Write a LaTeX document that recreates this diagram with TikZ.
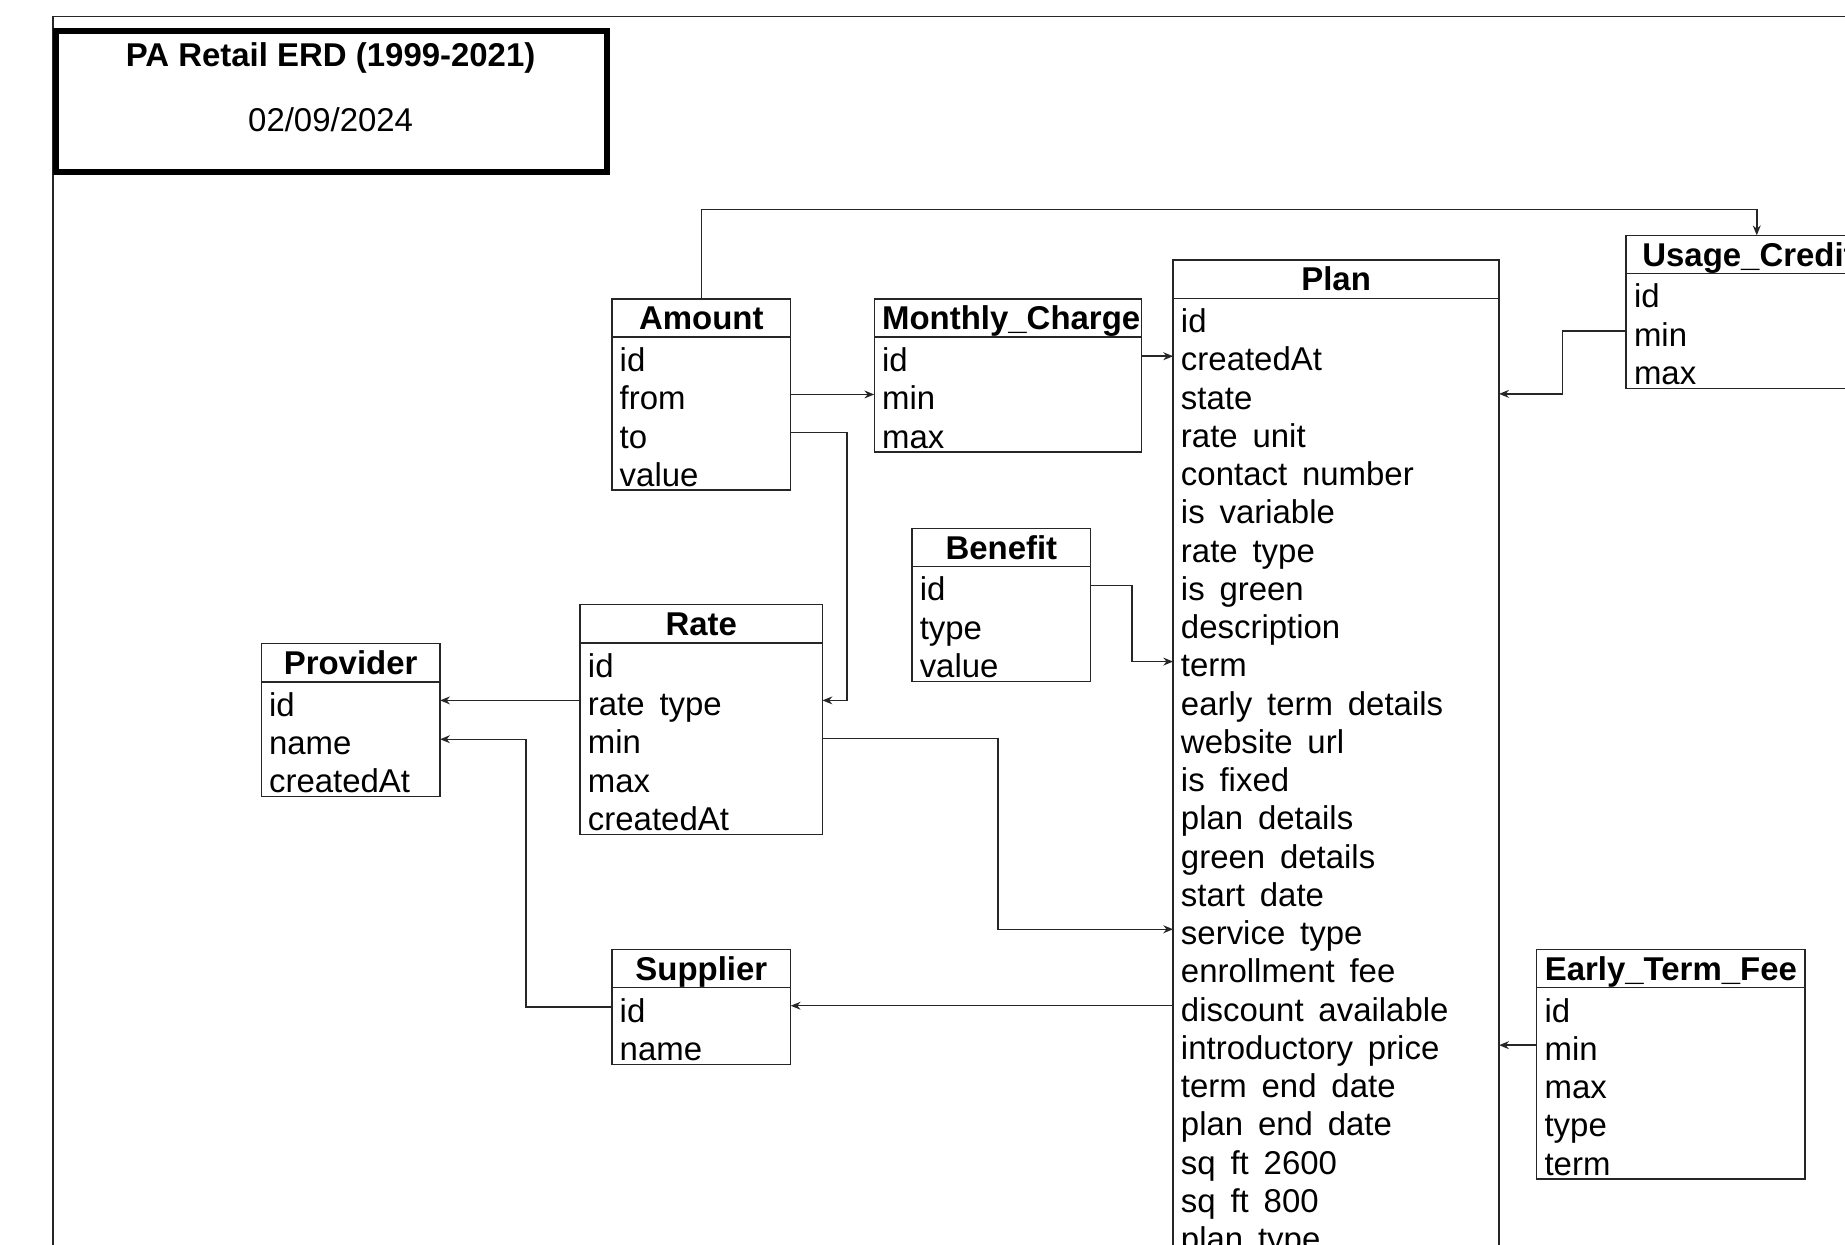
\documentclass[tikz,border=0pt]{standalone}
\usepackage{fontspec}
\setmainfont{Liberation Sans}
\usetikzlibrary{arrows.meta,calc}
\newcommand\ugap{\hspace{0.45em}}
\newcommand\erdtab[6]{%
  \pgfmathsetlengthmacro\erdtw{#4*0.6pt-8pt}%
  \node[hdr, text width=\erdtw, anchor=north west] (#1-h) at (#2,#3) {#5};
  \foreach \rw [count=\rn] in {#6} {
    \node[rowc, text width=\erdtw, anchor=north west] (#1-\rn) at ($(#1-h.south west)+(0,{(\rn-1)*32.5})$) {\rw};
    \xdef\erdnrows{\rn}
  }
  \draw[box] (#1-h.north west) rectangle (#1-\erdnrows.south east);
  \draw[box] (#1-h.south west) -- (#1-h.south east);
}
\begin{document}
\begin{tikzpicture}[x=0.6pt,y=-0.6pt,
  box/.style={draw=black!85,line width=0.7pt},
  hdr/.style={font=\bfseries\fontsize{16.8}{19}\selectfont, align=center, inner xsep=4pt, inner ysep=0pt, outer sep=0pt, minimum height=19.5pt, text height=12pt, text depth=0pt},
  rowc/.style={font=\fontsize{16.8}{19}\selectfont, align=left, inner xsep=4pt, inner ysep=0pt, outer sep=0pt, minimum height=19.5pt, text height=15.6pt, text depth=0pt},
  conn/.style={draw=black!85,line width=0.75pt,-{Stealth[length=5pt,width=4pt,inset=1.6pt]}},
  titlebox/.style={draw=black, line width=2.8pt, minimum width=281.1pt, minimum height=71.7pt, inner sep=0pt},
  ttext/.style={font=\fontsize{16.8}{19}\selectfont, inner sep=0pt}]
\useasboundingbox (0,0) rectangle (1568,1058);
\clip (0,0) rectangle (1568,1058);
\fill[white] (0,0) rectangle (1568,1058);
% outer frame
\draw[line width=0.8pt, black!85] (45,1100) |- (1620,14);
% title block
\node[titlebox] (title) at (281.75,86.25) {};
\node[ttext, font=\bfseries\fontsize{16.8}{19}\selectfont] (ttl) at (281,49.5) {PA Retail ERD (1999-2021)};
\node[ttext] (dt) at (281,102) {02/09/2024};
% tables
\erdtab{Amount}{520}{254}{152}{Amount}{id,from,to,value}
\erdtab{MC}{743}{254}{227}{Monthly\_Charge}{id,min,max}
\erdtab{Plan}{997}{221}{277}{Plan}{id,createdAt,state,rate\ugap unit,contact\ugap number,is\ugap variable,rate\ugap type,is\ugap green,description,term,early\ugap term\ugap details,website\ugap url,is\ugap fixed,plan\ugap details,green\ugap details,start\ugap date,service\ugap type,enrollment\ugap fee,discount\ugap available,introductory\ugap price,term\ugap end\ugap date,plan\ugap end\ugap date,sq\ugap ft\ugap 2600,sq\ugap ft\ugap 800,plan\ugap type}
\erdtab{Usage}{1382}{200}{208}{Usage\_Credit}{id,min,max}
\erdtab{Benefit}{775}{449}{152}{Benefit}{id,type,value}
\erdtab{Rate}{493}{514}{206}{Rate}{id,rate\ugap type,min,max,createdAt}
\erdtab{Provider}{222}{547}{152}{Provider}{id,name,createdAt}
\erdtab{Supplier}{520}{807}{152}{Supplier}{id,name}
\erdtab{ETF}{1306}{807}{228}{Early\_Term\_Fee}{id,min,max,type,term}
% connectors
\draw[conn] (Amount-h.north) -- ++(0,-76) -| ($(Usage-h.north west)+(111,0)$);
\draw[conn] (Amount-2.east) -- (Amount-2.east -| MC-2.west);
\draw[conn] (Amount-3.east) -- ++(48,0) |- (Rate-2.east);
\draw[conn] (MC-1.east) -- (MC-1.east -| Plan-2.west);
\draw[conn] (Usage-2.west) -- ++(-54,0) |- (Plan-3.east);
\draw[conn] (Benefit-1.east) -- ++(35,0) |- (Plan-10.west);
\draw[conn] (Rate-2.west) -- (Rate-2.west -| Provider-1.east);
\draw[conn] (Rate-3.east) -- ++(149,0) |- (Plan-17.west);
\draw[conn] (Supplier-1.west) -- ++(-73,0) |- (Provider-2.east);
\draw[conn] (Plan-19.west) -- (Plan-19.west -| Supplier-1.east);
\draw[conn] (ETF-2.west) -- (ETF-2.west -| Plan-20.east);
\end{tikzpicture}
\end{document}
